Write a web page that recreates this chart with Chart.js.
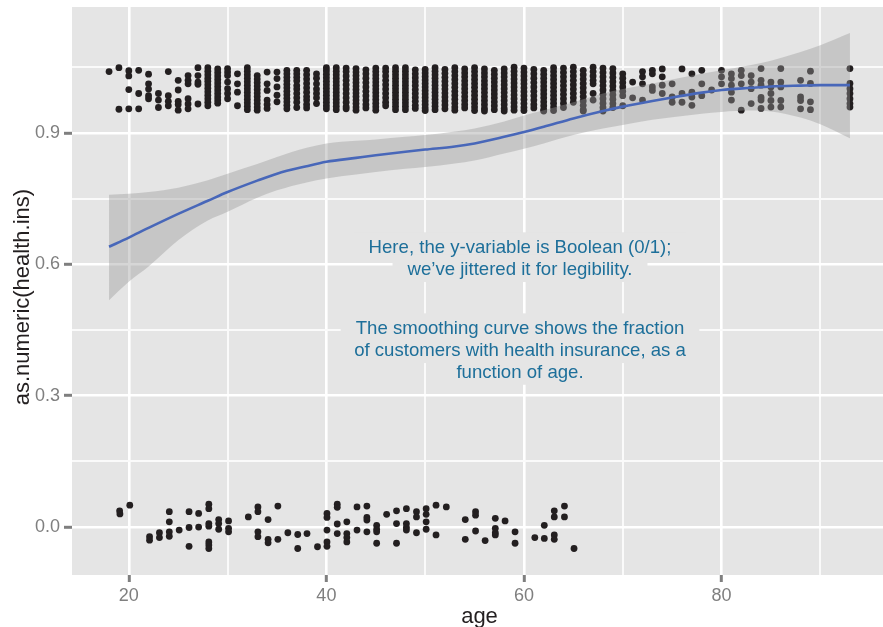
<!DOCTYPE html>
<html>
<head>
<meta charset="utf-8">
<script src="https://cdn.jsdelivr.net/npm/chart.js@4.4.1/dist/chart.umd.min.js"></script>
<style>
  html, body { margin: 0; padding: 0; overflow: hidden; background: #ffffff; }
  #wrap { width: 891px; height: 627px; }
</style>
</head>
<body>
<div id="wrap"><canvas id="c" width="891" height="627"></canvas></div>
<script>
// ---------------- DATA ----------------
// Customers WITH health insurance (value 1, jittered vertically): ages and jittered y per age
const insuredAges = [18,19,20,21,22,23,24,25,26,27,28,29,30,31,32,33,34,35,36,37,38,39,40,41,42,43,44,45,46,47,48,49,50,51,52,53,54,55,56,57,58,59,60,61,62,63,64,65,66,67,68,69,70,71,72,73,74,75,76,77,78,79,80,81,82,83,84,85,86,88,89,93];
const insuredValues = [
  [1.040],
  [1.049,0.954],
  [1.042,1.030,0.999,0.955],
  [1.043,0.990,0.955],
  [1.034,1.012,1.000,0.985,0.978],
  [0.990,0.975,0.958],
  [1.040,0.985,0.972,0.962],
  [1.020,0.998,0.972,0.965,0.952],
  [1.031,1.020,1.012,0.978,0.966,0.955],
  [1.049,1.031,1.016,1.011,0.966],
  [1.049,1.041,1.033,1.025,1.018,1.010,1.002,0.994,0.986,0.978,0.970,0.962],
  [1.046,1.038,1.030,1.022,1.014,1.006,0.998,0.990,0.982,0.975,0.968],
  [1.047,1.039,1.031,1.016,1.001,0.990,0.978],
  [1.035,1.012,0.993,0.962],
  [1.049,1.041,1.033,1.025,1.017,1.009,1.001,0.993,0.985,0.977,0.969,0.961,0.953],
  [1.031,1.023,1.015,1.007,0.999,0.991,0.983,0.975,0.967,0.959,0.952],
  [1.039,1.012,0.997,0.975,0.965,0.956],
  [1.039,1.024,1.005,0.986,0.971],
  [1.043,1.035,1.027,1.019,1.011,1.003,0.995,0.987,0.979,0.971,0.963,0.955],
  [1.043,1.035,1.027,1.019,1.008,1.000,0.990,0.980,0.970,0.958],
  [1.043,1.033,1.023,1.013,1.003,0.993,0.983,0.975,0.965,0.957],
  [1.035,1.025,1.012,1.000,0.990,0.980,0.967],
  [1.049,1.042,1.034,1.026,1.018,1.010,1.002,0.994,0.986,0.978,0.970,0.962,0.955],
  [1.049,1.041,1.033,1.025,1.017,1.009,1.001,0.993,0.985,0.977,0.969,0.961,0.953],
  [1.048,1.040,1.030,1.020,1.010,1.000,0.990,0.980,0.970,0.960,0.955],
  [1.047,1.039,1.031,1.023,1.015,1.007,0.999,0.991,0.983,0.975,0.967,0.959,0.952],
  [1.044,1.035,1.025,1.015,1.005,0.995,0.985,0.975,0.965,0.957],
  [1.048,1.040,1.032,1.024,1.016,1.008,1.000,0.992,0.984,0.976,0.968,0.960,0.952],
  [1.048,1.040,1.030,1.020,1.010,1.000,0.990,0.980,0.970,0.962],
  [1.049,1.041,1.033,1.025,1.017,1.009,1.001,0.993,0.985,0.977,0.969,0.961,0.953],
  [1.049,1.041,1.033,1.025,1.017,1.009,1.001,0.993,0.985,0.977,0.969,0.961,0.953],
  [1.044,1.035,1.026,1.017,1.008,0.999,0.990,0.981,0.972,0.963,0.956],
  [1.045,1.037,1.029,1.021,1.013,1.005,0.997,0.989,0.981,0.973,0.965,0.957,0.951],
  [1.049,1.041,1.033,1.025,1.017,1.009,1.001,0.993,0.985,0.977,0.969,0.961,0.953],
  [1.045,1.036,1.027,1.018,1.009,1.000,0.991,0.982,0.973,0.964,0.955],
  [1.049,1.040,1.031,1.022,1.013,1.004,0.995,0.986,0.977,0.968,0.959,0.952],
  [1.046,1.037,1.028,1.019,1.010,1.001,0.992,0.983,0.974,0.965,0.957],
  [1.049,1.040,1.031,1.022,1.013,1.004,0.995,0.986,0.977,0.968,0.959,0.951],
  [1.046,1.037,1.028,1.019,1.010,1.001,0.992,0.983,0.974,0.965,0.956,0.950],
  [1.043,1.034,1.025,1.016,1.007,0.998,0.989,0.980,0.971,0.962,0.953],
  [1.046,1.037,1.028,1.019,1.010,1.001,0.992,0.983,0.974,0.965,0.956,0.950],
  [1.050,1.041,1.032,1.023,1.014,1.005,0.996,0.987,0.978,0.969,0.960,0.952],
  [1.048,1.039,1.030,1.021,1.012,1.003,0.994,0.985,0.976,0.967,0.958,0.951],
  [1.045,1.035,1.025,1.015,1.005,0.995,0.985,0.975,0.965,0.957],
  [1.043,1.034,1.025,1.016,1.007,0.998,0.989,0.980,0.971,0.962,0.953,0.950],
  [1.049,1.040,1.031,1.022,1.013,1.004,0.995,0.986,0.977,0.968,0.959,0.951],
  [1.048,1.038,1.028,1.018,1.008,0.998,0.988,0.978,0.968,0.958],
  [1.050,1.040,1.030,1.020,1.010,1.000,0.990,0.980,0.970],
  [1.043,1.033,1.023,1.013,1.003,0.993,0.983,0.973,0.963,0.953,0.950],
  [1.050,1.040,1.030,1.020,1.012,0.990,0.975],
  [1.048,1.038,1.028,1.018,1.008,0.998,0.988,0.978,0.968,0.958,0.950],
  [1.047,1.037,1.027,1.017,1.007,0.997,0.987,0.977,0.967,0.958],
  [1.035,1.025,1.015,1.005,0.995,0.985,0.962],
  [1.016,0.980],
  [1.040,1.028,1.012,0.975],
  [1.043,1.035,1.005,0.997],
  [1.046,1.028,1.009,0.990],
  [1.012,0.982,0.970],
  [1.046,0.990,0.970],
  [1.035,0.993,0.982,0.963],
  [1.043,1.012,0.985],
  [0.998],
  [1.043,1.028,1.012],
  [1.035,1.024,1.009,0.993,0.975],
  [1.043,1.031,1.012,0.952],
  [1.031,1.016,1.001,0.967],
  [1.047,1.020,1.009,0.981,0.975,0.956],
  [1.016,1.005,0.990,0.974,0.959],
  [1.047,1.016,1.005,0.974,0.959],
  [1.020,0.982,0.974,0.955],
  [1.041,1.013,0.971,0.953],
  [1.047,1.013,1.001,0.990,0.978,0.967,0.959]
];

// Customers WITHOUT health insurance (value 0, jittered)
const uninsuredAge = [19.07,19.1,20.1,22.1,22.1,23.1,23.1,24.1,24.1,24.1,24.1,25.1,26.1,26.1,26.1,27.07,27.07,28.1,28.1,28.1,28.1,28.1,28.1,28.1,29.1,29.1,29.1,30.1,30.1,30.1,32.1,33.07,33.07,33.07,33.07,34.1,34.1,34.1,35.09,35.09,36.1,37.1,37.1,38.04,39.1,40.06,40.06,40.06,40.06,40.06,41.1,41.1,41.1,41.1,42.07,42.07,42.07,42.07,43.1,43.1,44.1,44.1,44.1,44.1,45.09,45.09,45.09,45.09,46.1,47.1,47.1,47.1,48.1,48.1,48.1,48.1,49.12,49.12,49.12,50.1,50.1,50.1,50.1,51.1,51.1,52.14,54.06,54.06,55.1,55.1,55.1,56.07,57.1,57.1,57.1,57.1,58.09,59.1,59.1,61.1,62.06,62.06,63.07,63.07,63.07,63.07,64.1,64.1,65.07];
const uninsuredY = [0.037,0.030,0.050,-0.022,-0.030,-0.013,-0.024,0.035,0.012,-0.011,-0.021,-0.007,0.035,-0.001,-0.044,0.031,0.000,0.052,0.042,0.008,0.002,-0.034,-0.041,-0.049,0.017,0.008,-0.005,0.014,-0.003,-0.011,0.023,0.046,0.035,-0.011,-0.022,0.017,-0.028,-0.036,0.048,-0.028,-0.013,-0.017,-0.049,-0.015,-0.045,0.031,0.022,-0.007,-0.034,-0.044,0.052,0.045,0.007,-0.015,0.012,-0.015,-0.024,-0.034,0.046,-0.007,0.048,0.022,0.016,-0.011,0.004,-0.005,-0.011,-0.037,0.029,0.037,0.008,-0.037,0.042,0.008,-0.001,-0.007,0.035,0.023,-0.013,0.042,0.029,0.012,-0.005,0.050,-0.018,0.046,0.017,-0.028,0.035,0.027,-0.009,-0.031,0.020,-0.003,-0.013,-0.018,0.014,-0.011,-0.037,-0.024,0.004,-0.026,0.037,0.023,-0.018,-0.028,0.048,0.023,-0.049];

// Smoothing curve (loess fit) and its confidence band
const curveAges  = [18,20,22,25,28,30,33,35,38,40,43,45,48,50,53,55,58,60,62,65,68,70,73,75,78,80,83,85,88,90,93];
const curveFit   = [0.640,0.661,0.683,0.715,0.745,0.765,0.791,0.807,0.824,0.834,0.843,0.849,0.857,0.862,0.869,0.876,0.891,0.902,0.914,0.933,0.950,0.960,0.973,0.981,0.992,0.998,1.003,1.006,1.008,1.009,1.009];
const curveUpper = [0.759,0.761,0.765,0.775,0.792,0.807,0.829,0.845,0.866,0.876,0.882,0.885,0.891,0.895,0.903,0.910,0.926,0.940,0.952,0.970,0.990,1.000,1.013,1.022,1.035,1.043,1.055,1.065,1.085,1.100,1.128];
const curveLower = [0.518,0.560,0.595,0.655,0.700,0.720,0.752,0.769,0.787,0.796,0.805,0.811,0.818,0.822,0.830,0.837,0.853,0.864,0.876,0.895,0.910,0.918,0.930,0.936,0.944,0.948,0.951,0.949,0.935,0.920,0.888];

// Axis tick values with labels
const xTickLabels = [20, 40, 60, 80];
const yTickLabels = [0.0, 0.3, 0.6, 0.9];

// Annotation text (anchored in data coordinates: age, value of first baseline)
const note1Lines = ["Here, the y-variable is Boolean (0/1);", "we\u2019ve jittered it for legibility."];
const note2Lines = ["The smoothing curve shows the fraction", "of customers with health insurance, as a", "function of age."];
const noteAge = 59.6;
const note1Value = 0.625;
const note2Value = 0.440;

// ---------------- BUILD ----------------
const insuredPoints = [];
insuredAges.forEach((a, i) => insuredValues[i].forEach(v => insuredPoints.push({x: a, y: v})));
const uninsuredPoints = uninsuredAge.map((a, i) => ({x: a, y: uninsuredY[i]}));
const fitPts = curveAges.map((a, i) => ({x: a, y: curveFit[i]}));
const upPts = curveAges.map((a, i) => ({x: a, y: curveUpper[i]}));
const loPts = curveAges.map((a, i) => ({x: a, y: curveLower[i]}));

const PANEL = '#e5e5e5';
const FONT = "'Liberation Sans', Arial, Helvetica, sans-serif";
Chart.defaults.font.family = FONT;

const isMajorX = v => xTickLabels.some(t => Math.abs(t - v) < 1e-6);
const isMajorY = v => yTickLabels.some(t => Math.abs(t - v) < 1e-6);

const panelBg = {
  id: 'panelBg',
  beforeDraw(chart) {
    const {ctx, chartArea: a} = chart;
    ctx.save();
    ctx.fillStyle = PANEL;
    ctx.fillRect(a.left, a.top, a.right - a.left, a.bottom - a.top);
    ctx.restore();
  }
};

const notes = {
  id: 'notes',
  afterDraw(chart) {
    const {ctx} = chart;
    const xs = chart.scales.x, ys = chart.scales.y;
    const cx = xs.getPixelForValue(noteAge);
    const lh = 21.7;
    ctx.save();
    ctx.font = '18.6px ' + FONT;
    ctx.textAlign = 'center';
    ctx.textBaseline = 'alphabetic';
    [[note1Lines, note1Value], [note2Lines, note2Value]].forEach(([lines, val]) => {
      const b0 = ys.getPixelForValue(val);
      lines.forEach((t, i) => {
        const w = ctx.measureText(t).width;
        const b = b0 + i * lh;
        ctx.fillStyle = PANEL;
        ctx.fillRect(cx - w / 2 - 15, b - 21, w + 30, 28);
      });
      lines.forEach((t, i) => {
        ctx.fillStyle = '#1d6f9a';
        ctx.fillText(t, cx, b0 + i * lh);
      });
    });
    ctx.restore();
  }
};

new Chart(document.getElementById('c'), {
  type: 'scatter',
  data: {
    datasets: [
      { label: 'insured', data: insuredPoints, order: 5,
        pointRadius: 3.4, pointBorderWidth: 0, backgroundColor: '#231f20', borderColor: '#231f20' },
      { label: 'uninsured', data: uninsuredPoints, order: 5,
        pointRadius: 3.4, pointBorderWidth: 0, backgroundColor: '#231f20', borderColor: '#231f20' },
      { type: 'line', label: 'lower', data: loPts, order: 4, showLine: true,
        borderWidth: 0, borderColor: 'rgba(0,0,0,0)', pointRadius: 0, fill: false,
        cubicInterpolationMode: 'monotone' },
      { type: 'line', label: 'upper', data: upPts, order: 3, showLine: true,
        borderWidth: 0, borderColor: 'rgba(0,0,0,0)', pointRadius: 0,
        fill: 2, backgroundColor: 'rgba(153,153,153,0.4)',
        cubicInterpolationMode: 'monotone' },
      { type: 'line', label: 'fit', data: fitPts, order: 1, showLine: true,
        borderWidth: 2.6, borderColor: '#4867b9', pointRadius: 0, fill: false,
        cubicInterpolationMode: 'monotone' }
    ]
  },
  options: {
    responsive: false,
    animation: false,
    devicePixelRatio: 1,
    layout: { padding: { top: 7, left: 0, right: 0, bottom: 0 } },
    plugins: { legend: { display: false }, tooltip: { enabled: false } },
    scales: {
      x: {
        type: 'linear', min: 14.25, max: 96.75,
        border: { display: false },
        grid: {
          color: c => isMajorX(c.tick.value) ? '#ffffff' : '#fafafa',
          lineWidth: c => isMajorX(c.tick.value) ? 2.6 : 2.0,
          tickColor: c => isMajorX(c.tick.value) ? '#7f7f7f' : 'rgba(0,0,0,0)',
          tickWidth: c => isMajorX(c.tick.value) ? 3 : 0,
          tickLength: 7
        },
        ticks: {
          stepSize: 10, includeBounds: false, autoSkip: false, maxRotation: 0,
          color: '#7f7f7f', font: { size: 18 }, padding: 3,
          callback: v => isMajorX(v) ? String(v) : ''
        },
        title: { display: true, text: 'age', color: '#231f20', font: { size: 22 },
                 padding: { top: 0, bottom: -3 } },
        afterFit: s => { s.height = 52; s.paddingLeft = 0; s.paddingRight = 0; }
      },
      y: {
        type: 'linear', min: -0.1095, max: 1.1875,
        border: { display: false },
        grid: {
          color: c => isMajorY(c.tick.value) ? '#ffffff' : '#fafafa',
          lineWidth: c => isMajorY(c.tick.value) ? 2.6 : 2.0,
          tickColor: c => isMajorY(c.tick.value) ? '#7f7f7f' : 'rgba(0,0,0,0)',
          tickWidth: c => isMajorY(c.tick.value) ? 3 : 0,
          tickLength: 8
        },
        ticks: {
          stepSize: 0.15, includeBounds: false, autoSkip: false,
          color: '#7f7f7f', font: { size: 18 }, padding: 4,
          callback: v => isMajorY(v) ? Number(v).toFixed(1) : ''
        },
        title: { display: true, text: 'as.numeric(health.ins)  ', color: '#231f20', font: { size: 22 },
                 padding: { top: 10, bottom: 0 } },
        afterFit: s => { s.width = 72; s.paddingTop = 0; s.paddingBottom = 0; }
      }
    }
  },
  plugins: [panelBg, notes]
});
</script>
</body>
</html>
